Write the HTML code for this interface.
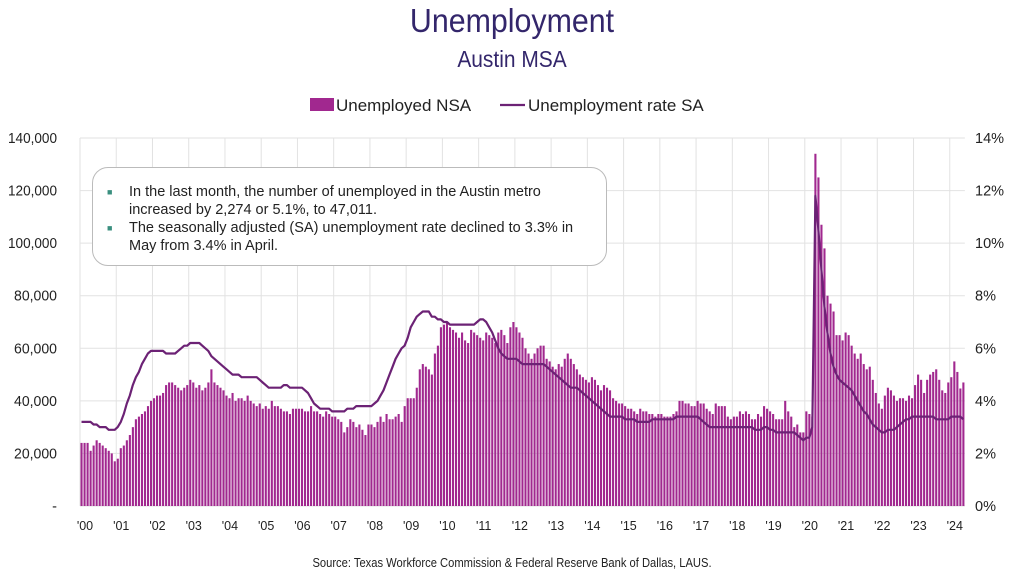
<!DOCTYPE html>
<html><head><meta charset="utf-8"><style>
body{margin:0;background:#fff;font-family:"Liberation Sans",sans-serif;}
#wrap{position:relative;width:1024px;height:576px;overflow:hidden;}
.t{position:absolute;white-space:nowrap;}
</style></head><body>
<div id="wrap">
<div class="t" style="left:0;width:1024px;text-align:center;top:2px;font-size:33px;color:#33266b;transform:scaleX(0.92);transform-origin:512px 0;">Unemployment</div>
<div class="t" style="left:0;width:1024px;text-align:center;top:46px;font-size:23px;color:#33266b;transform:scaleX(0.91);transform-origin:512px 0;">Austin MSA</div>
<svg id="svg" width="1024" height="576" style="position:absolute;left:0;top:0"></svg>
<div class="t" style="left:0;width:1024px;text-align:center;top:555px;font-size:13px;color:#222;transform:scaleX(0.86);transform-origin:512px 0;">Source: Texas Workforce Commission &amp; Federal Reserve Bank of Dallas, LAUS.</div>
<div style="position:absolute;left:92px;top:167px;width:515px;height:99px;border:1.5px solid #bbb;border-radius:16px;background:#fff;box-sizing:border-box;font-size:14.5px;color:#222;line-height:18px;padding:15px 10px 0 36px;">
<div style="position:relative;"><span style="position:absolute;left:-22px;top:0;color:#3a8f7f;font-size:9px;">■</span>In the last month, the number of unemployed in the Austin metro increased by 2,274 or 5.1%, to 47,011.</div>
<div style="position:relative;"><span style="position:absolute;left:-22px;top:0;color:#3a8f7f;font-size:9px;">■</span>The seasonally adjusted (SA) unemployment rate declined to 3.3% in May from 3.4% in April.</div>
</div>
</div>
<script>
const years=['\'00','\'01','\'02','\'03','\'04','\'05','\'06','\'07','\'08','\'09','\'10','\'11','\'12','\'13','\'14','\'15','\'16','\'17','\'18','\'19','\'20','\'21','\'22','\'23','\'24'];
const leftTicks=[0,20000,40000,60000,80000,100000,120000,140000];
const rightTicks=[0,2,4,6,8,10,12,14];
const unemployedK=[
24,24,24,21,23,25,24,23,22,21,20,17,
18,22,23,25,27,30,33,34,35,36,38,40,
41,42,42,43,46,47,47,46,45,44,45,46,
48,47,45,46,44,45,47,52,47,46,45,44,
42,41,43,40,41,41,40,42,40,39,38,39,
37,38,37,40,38,38,37,36,36,35,37,37,
37,37,36,36,38,36,36,35,34,36,35,34,
34,33,32,28,30,33,32,30,31,29,27,31,
31,30,32,34,32,35,33,33,34,35,32,38,
41,41,41,45,52,54,53,52,50,58,61,68,
69,70,68,67,66,64,66,63,62,67,66,65,
64,63,66,65,64,62,66,67,65,62,68,70,
68,66,64,60,58,56,58,60,61,61,56,55,
53,52,54,53,56,58,56,54,52,50,49,48,
47,49,48,46,44,46,45,44,41,40,39,39,
38,37,37,36,35,37,36,36,35,35,34,35,
35,34,34,34,35,36,40,40,39,39,38,38,
40,39,39,37,36,35,39,38,38,38,34,33,
34,34,36,35,36,35,33,33,35,34,38,37,
36,35,33,33,33,40,36,34,30,31,28,28,
36,35,34,134,125,107,98,80,77,74,65,65,
63,66,65,61,58,56,58,54,52,53,48,43,
39,37,42,45,44,42,40,41,41,40,42,41,
46,50,48,43,48,50,51,52,48,44,43,47,
49,55,51,44.7,47.0];
const rateSA=[
3.2,3.2,3.2,3.2,3.1,3.1,3.0,3.0,3.0,2.9,2.9,2.9,
3.0,3.2,3.5,3.9,4.2,4.6,4.9,5.1,5.4,5.6,5.8,5.9,
5.9,5.9,5.9,5.9,5.8,5.8,5.8,5.8,5.9,6.0,6.1,6.1,
6.2,6.2,6.2,6.2,6.1,6.0,5.9,5.7,5.6,5.5,5.4,5.3,
5.2,5.1,5.0,5.0,5.0,4.9,4.9,4.9,4.9,4.9,4.9,4.8,
4.7,4.6,4.5,4.5,4.5,4.5,4.5,4.6,4.6,4.5,4.5,4.5,
4.5,4.5,4.4,4.3,4.1,3.9,3.8,3.7,3.7,3.7,3.7,3.6,
3.6,3.6,3.6,3.6,3.7,3.7,3.7,3.8,3.8,3.8,3.8,3.8,
3.8,3.9,4.0,4.2,4.4,4.7,5.0,5.3,5.6,5.8,6.0,6.1,
6.4,6.8,7.0,7.2,7.3,7.4,7.4,7.4,7.2,7.2,7.1,7.1,
7.0,7.0,6.9,6.9,6.9,6.9,6.9,6.9,6.9,6.9,6.9,7.0,
7.1,7.1,7.0,6.8,6.6,6.3,6.0,5.8,5.7,5.6,5.6,5.6,
5.6,5.5,5.4,5.4,5.4,5.4,5.4,5.4,5.4,5.4,5.3,5.2,
5.1,5.0,4.9,4.8,4.7,4.6,4.5,4.5,4.5,4.4,4.3,4.2,
4.1,4.0,3.9,3.8,3.7,3.6,3.5,3.4,3.4,3.4,3.4,3.4,
3.3,3.3,3.3,3.3,3.2,3.2,3.2,3.2,3.2,3.3,3.3,3.3,
3.3,3.3,3.3,3.3,3.3,3.4,3.4,3.4,3.4,3.4,3.4,3.4,
3.4,3.3,3.2,3.1,3.0,3.0,3.0,3.0,3.0,3.0,3.0,3.0,
3.0,3.0,3.0,3.0,3.0,3.0,3.0,2.9,2.9,2.9,3.0,3.0,
2.9,2.9,2.8,2.8,2.8,2.8,2.8,2.8,2.8,2.7,2.6,2.5,
2.6,2.6,3.0,11.8,10.5,9.0,7.6,6.6,5.8,5.3,5.0,4.8,
4.7,4.6,4.5,4.4,4.2,4.0,3.8,3.6,3.5,3.3,3.1,3.0,
2.9,2.8,2.8,2.9,2.9,2.9,3.0,3.1,3.2,3.3,3.3,3.4,
3.4,3.4,3.4,3.4,3.4,3.4,3.4,3.3,3.3,3.3,3.3,3.3,
3.4,3.4,3.4,3.4,3.3];
const NS='http://www.w3.org/2000/svg';
const svg=document.getElementById('svg');
const X0=80,MW=3.02,Y0=506,Y1=138;
const xm=i=>X0+i*MW;
const yL=v=>Y0-v/140000*(Y0-Y1);
const yR=v=>Y0-v/14*(Y0-Y1);
function mk(t,a){const e=document.createElementNS(NS,t);for(const k in a)e.setAttribute(k,a[k]);svg.appendChild(e);return e;}
const xEnd=xm(unemployedK.length);
leftTicks.forEach((v,i)=>{
 const l=mk('line',{x1:X0,x2:xEnd,y1:yL(v),y2:yL(v),stroke:'#e2e2e2','stroke-width':1});
 
 
 const t=mk('text',{x:57,y:yL(v)+5,'text-anchor':'end','font-size':14.5,fill:'#222'});
 t.textContent=v===0?'-':v.toLocaleString('en-US');
 if(v!==0){t.setAttribute('textLength',v>=100000?49:43);t.setAttribute('lengthAdjust','spacingAndGlyphs');}
 
 
});
rightTicks.forEach(v=>{
 const t=mk('text',{x:975,y:yR(v)+5,'font-size':14.5,fill:'#222'});
 t.textContent=v+'%';
 
 
});
years.forEach((y,i)=>{
 const x=xm(i*12);
 const l=mk('line',{x1:x,x2:x,y1:Y1,y2:Y0,stroke:'#e2e2e2','stroke-width':1});
 
 
 const t=mk('text',{x:x+5,y:530,'text-anchor':'middle','font-size':12.5,fill:'#222'});
 t.textContent=y;
 
 
});
unemployedK.forEach((v,i)=>{
 const y=yL(v*1000);
 const b=mk('rect',{x:xm(i)+0.5,y:y,width:2.1,height:Y0-y,fill:'#a1288f'});
 
 
});
const pts=rateSA.map((v,i)=>(xm(i)+1.5).toFixed(1)+','+yR(v).toFixed(1)).join(' ');
const pl=mk('polyline',{points:pts,fill:'none',stroke:'#6c2275','stroke-width':2.2,'stroke-linejoin':'round'});


const lr=mk('rect',{x:310,y:98,width:24,height:13,fill:'#a1288f'});


const lt1=mk('text',{x:336,y:111,'font-size':17,fill:'#222'});
lt1.textContent='Unemployed NSA';


const ll=mk('line',{x1:500,x2:525,y1:105,y2:105,stroke:'#6c2275','stroke-width':2.2});


const lt2=mk('text',{x:528,y:111,'font-size':17,fill:'#222'});
lt2.textContent='Unemployment rate SA';


</script>
</body></html>
